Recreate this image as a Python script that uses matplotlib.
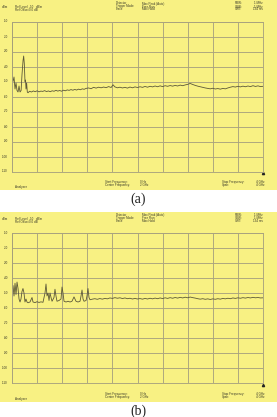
"""
Spectrum analyzer screenshots (a) and (b), redrawn with matplotlib
"""

import matplotlib
matplotlib.use('Agg')
import matplotlib.pyplot as plt
from matplotlib.patches import Rectangle

# Trace (a): frequency in GHz, level in dBm
FREQ_A = [0.000, 0.004, 0.016, 0.032, 0.048, 0.064, 0.080, 0.096, 0.112, 0.128,
          0.145, 0.160, 0.176, 0.186, 0.196, 0.207, 0.216, 0.223, 0.233, 0.244,
          0.255, 0.28, 0.31, 0.34, 0.37, 0.40, 0.43, 0.46, 0.49, 0.52,
          0.55, 0.58, 0.61, 0.64, 0.67, 0.70, 0.73, 0.76, 0.79, 0.82,
          0.85, 0.88, 0.91, 0.94, 0.97, 1.00, 1.03, 1.06, 1.09, 1.12,
          1.15, 1.18, 1.22, 1.26, 1.30, 1.34, 1.38, 1.42, 1.46, 1.50,
          1.54, 1.58, 1.61, 1.64, 1.68, 1.72, 1.76, 1.80, 1.84, 1.88,
          1.92, 1.96, 2.00, 2.04, 2.08, 2.12, 2.16, 2.20, 2.24, 2.28,
          2.32, 2.36, 2.40, 2.44, 2.48, 2.52, 2.56, 2.60, 2.64, 2.68,
          2.72, 2.76, 2.80, 2.84, 2.88, 2.92, 2.96, 3.00, 3.04, 3.08,
          3.12, 3.16, 3.20, 3.24, 3.28, 3.32, 3.36, 3.40, 3.44, 3.48,
          3.52, 3.56, 3.60, 3.64, 3.68, 3.72, 3.76, 3.80, 3.84, 3.88,
          3.92, 3.96, 4.00]
LEVEL_A = [-10, -48, -50, -47, -55, -51, -56, -57, -53, -57,
           -56, -45, -36, -33, -38, -50, -49, -55, -51, -57,
           -57.5, -56.5, -57, -56.3, -56.8, -56.2, -56.9, -56.4, -56.6, -56.1,
           -56.7, -56.3, -56.8, -56.2, -56.5, -55.9, -56.4, -56.0, -56.5, -55.8,
           -56.2, -55.6, -55.9, -55.4, -55.8, -55.3, -55.7, -55.1, -55.5, -54.9,
           -55.2, -54.6, -54.3, -54.8, -53.9, -54.4, -53.8, -54.2, -53.7, -54.1,
           -53.4, -54.0, -52.2, -53.6, -54.2, -53.8, -54.3, -53.9, -54.4, -53.7,
           -54.2, -53.6, -54.0, -53.5, -53.9, -53.3, -53.8, -53.2, -53.6, -53.0,
           -53.5, -52.9, -53.4, -52.8, -53.2, -52.7, -53.1, -52.6, -53.0, -52.4,
           -52.8, -52.3, -51.9, -51.3, -52.0, -52.6, -53.1, -53.5, -53.9, -54.3,
           -54.6, -54.9, -54.5, -55.0, -54.7, -55.1, -54.6, -54.9, -54.3, -53.8,
           -53.4, -53.7, -53.2, -53.6, -53.1, -53.5, -53.0, -53.4, -52.8, -53.3,
           -52.9, -53.4, -53.2]

# Trace (b): frequency in GHz, level in dBm
FREQ_B = [0.000, 0.005, 0.016, 0.032, 0.048, 0.064, 0.080, 0.096, 0.112, 0.128,
          0.143, 0.159, 0.175, 0.191, 0.207, 0.223, 0.239, 0.255, 0.287, 0.319,
          0.335, 0.367, 0.399, 0.430, 0.462, 0.494, 0.526, 0.542, 0.558, 0.574,
          0.590, 0.606, 0.622, 0.638, 0.669, 0.685, 0.701, 0.717, 0.749, 0.781,
          0.797, 0.813, 0.829, 0.861, 0.893, 0.925, 0.956, 0.988, 1.004, 1.020,
          1.052, 1.084, 1.100, 1.116, 1.132, 1.148, 1.180, 1.195, 1.211, 1.227,
          1.243, 1.28, 1.32, 1.36, 1.40, 1.44, 1.48, 1.52, 1.56, 1.60,
          1.64, 1.68, 1.72, 1.76, 1.80, 1.84, 1.88, 1.92, 1.96, 2.00,
          2.04, 2.08, 2.12, 2.16, 2.20, 2.24, 2.28, 2.32, 2.36, 2.40,
          2.44, 2.48, 2.52, 2.56, 2.60, 2.64, 2.68, 2.72, 2.76, 2.80,
          2.84, 2.88, 2.92, 2.96, 3.00, 3.04, 3.08, 3.12, 3.16, 3.20,
          3.24, 3.28, 3.32, 3.36, 3.40, 3.44, 3.48, 3.52, 3.56, 3.60,
          3.64, 3.68, 3.72, 3.76, 3.80, 3.84, 3.88, 3.92, 3.96, 4.00]
LEVEL_B = [-10, -47, -45, -52, -43.5, -51, -42.7, -47, -54, -56,
           -54, -49, -47, -50, -56, -54, -56, -56.5, -56, -53,
           -56, -56.4, -55.8, -56.3, -55.9, -56.2, -50, -44, -52, -50,
           -55, -50, -53, -55.5, -53, -47.5, -52, -55.5, -55, -54,
           -46, -50, -55.5, -56, -55.5, -56, -55.5, -52.6, -54, -55.5,
           -56, -55.5, -52, -48, -54, -55.5, -55, -52, -47, -53,
           -54.5, -54.1, -53.8, -54.2, -53.7, -54.1, -53.6, -53.9, -53.3, -53.6,
           -53.1, -53.5, -53.2, -53.7, -53.3, -53.8, -53.5, -54.0, -53.6, -54.0,
           -53.7, -54.1, -53.6, -54.0, -53.5, -53.9, -53.4, -53.8, -53.3, -53.7,
           -53.2, -53.6, -53.1, -53.5, -53.0, -53.4, -52.9, -53.3, -52.8, -53.2,
           -52.7, -53.1, -53.4, -53.8, -54.1, -53.8, -54.2, -53.9, -54.3, -53.9,
           -54.2, -53.8, -54.1, -53.6, -53.9, -53.5, -53.8, -53.3, -53.6, -53.2,
           -53.5, -53.1, -53.4, -53.0, -53.3, -52.9, -53.2, -53.0, -53.3, -53.2]

Y_TICKS = [-10, -20, -30, -40, -50, -60, -70, -80, -90, -100, -110]
X_TICKS = [0.0, 0.4, 0.8, 1.2, 1.6, 2.0, 2.4, 2.8, 3.2, 3.6, 4.0]
MARKER_F, MARKER_DB = 4.0, -111.2

HEADER_LEFT = [('Ref Level', '-10   dBm'), ('Ref Offset', '0.0 dB')]
HEADER_MID = [('Detector', 'Max Peak (Auto)'), ('Trigger Mode', 'Free Run'),
              ('Trace', 'Max Hold')]
HEADER_RIGHT = [('RBW', '1 MHz'), ('VBW', '1 MHz'), ('SWT', '134 ms')]
FOOTER_MID = [('Start Frequency', '0 Hz'), ('Centre Frequency', '2 GHz')]
FOOTER_RIGHT = [('Stop Frequency', '4 GHz'), ('Span', '4 GHz')]

W, H = 277, 417
BG = '#F8F183'
GRID = '#A9A37E'
TRACE = '#5C5838'
TXT = '#3A3A2A'
FS = 2.2
SANS = 'Liberation Sans'


def px(x, y):
    """pixel (from top-left) -> figure fraction"""
    return x / W, 1 - y / H


def label(x, y, s, **kw):
    kw.setdefault('va', 'center')
    return fig.text(*px(x, y), s, fontsize=FS, color=TXT, family=SANS, **kw)


def draw_panel(fig, top, freqs, levels, tag):
    # yellow screen background, kept under the axes
    fig.patches.append(Rectangle(px(0, top + 190), 1, 190 / H,
                                 transform=fig.transFigure,
                                 facecolor=BG, edgecolor='none', zorder=-5))

    # plot area: -10 dBm line 21 px below screen top, 150 px tall
    x0, y0 = px(12, top + 171.5)
    ax = fig.add_axes([x0, y0, 251 / W, 150 / H])
    ax.set_facecolor('none')
    ax.set_xlim(0, 4)
    ax.set_ylim(-110, -10)
    ax.set_xticks(X_TICKS)
    ax.set_yticks(Y_TICKS)
    ax.grid(True, color=GRID, linewidth=0.65)
    ax.tick_params(length=0, labelbottom=False, labelleft=False)
    for sp in ax.spines.values():
        sp.set_color(GRID)
        sp.set_linewidth(0.65)

    ax.plot(freqs, levels, color=TRACE, linewidth=0.6)
    ax.plot([MARKER_F], [MARKER_DB], marker='^', markersize=1.6,
            color='#222222', clip_on=False)

    # y tick labels
    for v in Y_TICKS:
        ax.text(-0.065, v, str(v), ha='right', va='center', fontsize=FS,
                color=TXT, family=SANS)

    # header
    label(2, top + 7.3, 'dBm')
    for i, (k, v) in enumerate(HEADER_LEFT):
        label(15, top + 7.3 + i * 3.0, k)
        label(29, top + 7.3 + i * 3.0, v)
    for i, (k, v) in enumerate(HEADER_MID):
        label(116, top + 3.5 + i * 3.0, k)
        label(142, top + 3.5 + i * 3.0, v)
    for i, (k, v) in enumerate(HEADER_RIGHT):
        label(235, top + 3.5 + i * 3.0, k + ':')
        label(263, top + 3.5 + i * 3.0, v, ha='right')

    # footer
    label(15, top + 187.3, 'Analyzer')
    for i, (k, v) in enumerate(FOOTER_MID):
        label(105, top + 182.3 + i * 3.0, k + ':')
        label(140, top + 182.3 + i * 3.0, v)
    for i, (k, v) in enumerate(FOOTER_RIGHT):
        label(222, top + 182.3 + i * 3.0, k + ':')
        label(264, top + 182.3 + i * 3.0, v, ha='right')

    # caption
    fig.text(*px(138.5, top + 199.5), tag, fontsize=10, ha='center',
             va='center', family='Liberation Serif', color='#222222')
    return ax


fig = plt.figure(figsize=(W / 100, H / 100), dpi=100)
fig.patch.set_facecolor('white')

draw_panel(fig, 0, FREQ_A, LEVEL_A, '(a)')
draw_panel(fig, 211.5, FREQ_B, LEVEL_B, '(b)')

fig.savefig('out.png', dpi=100)
